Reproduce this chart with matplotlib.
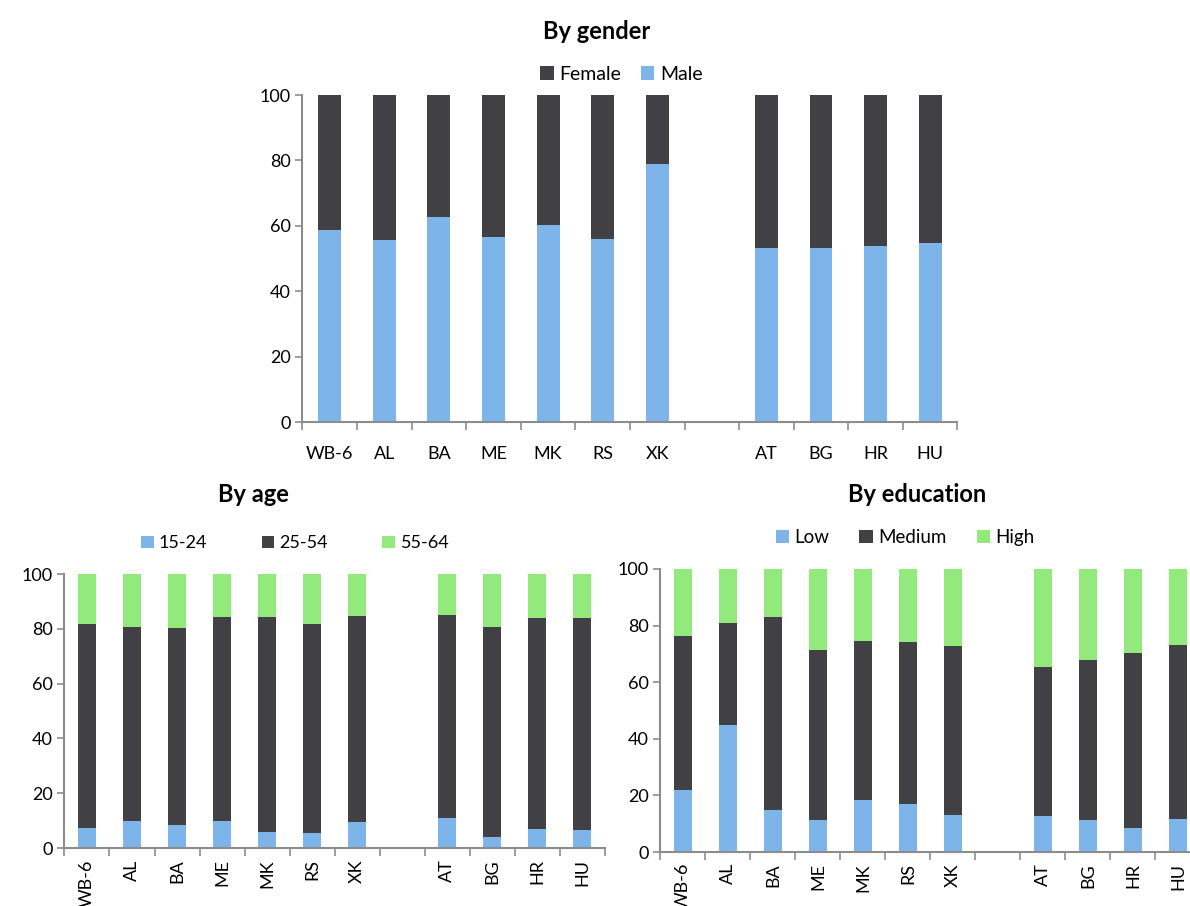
import matplotlib
matplotlib.use("Agg")
import matplotlib.pyplot as plt
import numpy as np

plt.rcParams['font.family'] = ['Lato', 'DejaVu Sans']

# Countries: Western Balkans group, then the comparison group
wb_countries = ['WB-6', 'AL', 'BA', 'ME', 'MK', 'RS', 'XK']
eu_countries = ['AT', 'BG', 'HR', 'HU']

# Shares of employed (%), by gender
male = [58.7, 55.7, 62.6, 56.6, 60.4, 55.9, 79.0, 53.2, 53.1, 53.8, 54.6]
female = [100 - m for m in male]

# By age
age_15_24 = [7.3, 9.9, 8.5, 9.9, 5.8, 5.6, 9.6, 11.0, 4.0, 6.8, 6.5]
age_25_54 = [74.6, 70.9, 71.7, 74.6, 78.7, 76.3, 75.2, 74.0, 76.5, 77.2, 77.6]
age_55_64 = [18.1, 19.2, 19.8, 15.5, 15.5, 18.1, 15.2, 15.0, 19.5, 16.0, 15.9]

# By education
edu_low = [21.9, 44.8, 14.7, 11.4, 18.4, 17.0, 13.0, 12.6, 11.2, 8.4, 11.5]
edu_medium = [54.5, 36.0, 68.3, 60.1, 56.0, 57.1, 59.8, 52.9, 56.8, 61.9, 61.8]
edu_high = [23.6, 19.2, 17.0, 28.5, 25.6, 25.9, 27.2, 34.5, 32.0, 29.7, 26.7]

BLUE = '#7db4ea'
DARK = '#414145'
GREEN = '#91ea7b'
AXIS = '#8c8c8c'

labels = wb_countries + eu_countries
# one empty slot between the two groups
pos = np.array(list(range(len(wb_countries))) +
               [len(wb_countries) + 1 + i for i in range(len(eu_countries))])
n_slots = len(wb_countries) + len(eu_countries) + 1


def stacked(ax, series, colors, names, width=0.42):
    bottom = np.zeros(len(labels))
    for vals, c, nm in zip(series, colors, names):
        ax.bar(pos, vals, width, bottom=bottom, color=c, label=nm,
               edgecolor='none')
        bottom += np.array(vals)


def style(ax, rotate=False, fs=13, pad=8):
    ax.set_xlim(-0.5, n_slots - 0.5)
    ax.set_ylim(0, 100)
    ax.set_yticks(range(0, 101, 20))
    ax.set_xticks(pos)
    ax.set_xticklabels(labels, rotation=90 if rotate else 0, fontsize=fs)
    ax.set_xticks(np.arange(-0.5, n_slots, 1.0), minor=True)
    ax.tick_params(axis='x', which='major', length=0, pad=pad)
    ax.tick_params(axis='x', which='minor', length=6, color=AXIS, width=1.2)
    ax.tick_params(axis='y', length=5, color=AXIS, width=1.2, labelsize=fs)
    for s in ['top', 'right']:
        ax.spines[s].set_visible(False)
    for s in ['left', 'bottom']:
        ax.spines[s].set_color(AXIS)
        ax.spines[s].set_linewidth(1.5)


fig = plt.figure(figsize=(11.9, 9.06), dpi=100)

# By gender
ax1 = fig.add_axes([0.2542, 0.5342, 0.5504, 0.3609])
stacked(ax1, [male, female], [BLUE, DARK], ['Male', 'Female'])
style(ax1, pad=17)
h, l = ax1.get_legend_handles_labels()
ax1.legend(h[::-1], l[::-1], loc='center', bbox_to_anchor=(0.487, 1.064),
           ncol=2, frameon=False, fontsize=14, handlelength=0.7,
           handleheight=0.7, handletextpad=0.3, columnspacing=1.0)
fig.text(0.5017, 0.965, 'By gender', ha='center', va='center',
         fontsize=17, fontweight='bold')

# By age
ax2 = fig.add_axes([0.0542, 0.0640, 0.4538, 0.3024])
stacked(ax2, [age_15_24, age_25_54, age_55_64], [BLUE, DARK, GREEN],
        ['15-24', '25-54', '55-64'])
style(ax2, rotate=True)
ax2.legend(loc='center', bbox_to_anchor=(0.427, 1.112), ncol=3,
           frameon=False, fontsize=13, handlelength=0.7, handleheight=0.7,
           handletextpad=0.3, columnspacing=3.0)
fig.text(0.2126, 0.4547, 'By age', ha='center', va='center',
         fontsize=17, fontweight='bold')

# By education
ax3 = fig.add_axes([0.5550, 0.0596, 0.4538, 0.3124])
stacked(ax3, [edu_low, edu_medium, edu_high], [BLUE, DARK, GREEN],
        ['Low', 'Medium', 'High'])
style(ax3, rotate=True)
ax3.legend(loc='center', bbox_to_anchor=(0.453, 1.11), ncol=3,
           frameon=False, fontsize=13.5, handlelength=0.7, handleheight=0.7,
           handletextpad=0.3, columnspacing=1.6)
fig.text(0.7706, 0.4547, 'By education', ha='center', va='center',
         fontsize=17, fontweight='bold')

fig.savefig('out.png', dpi=100)
